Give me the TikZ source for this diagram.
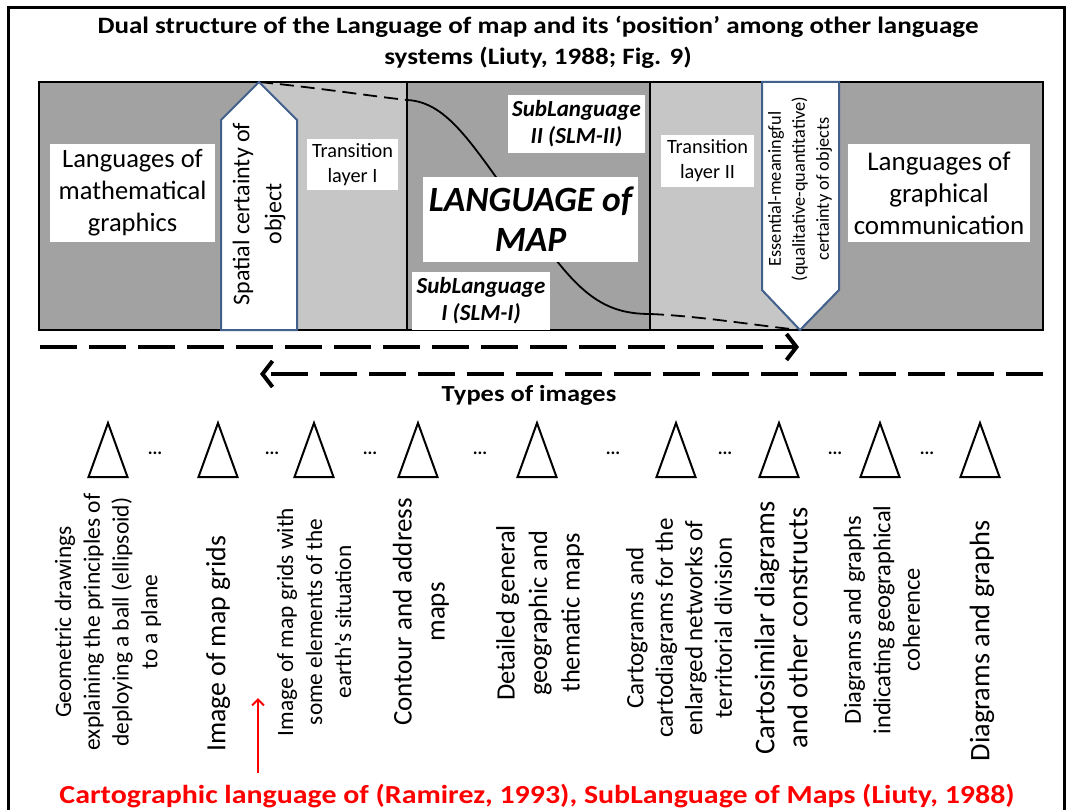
\documentclass[tikz,border=0pt]{standalone}
\usepackage{fontspec}
\setmainfont{Carlito}
\newfontfamily\widefont{Carlito}[FakeStretch=1.15]
\usetikzlibrary{arrows.meta}
\definecolor{bandDark}{RGB}{162,162,162}
\definecolor{bandLight}{RGB}{198,198,198}
\definecolor{shapeEdge}{RGB}{66,96,140}
\definecolor{citeRed}{RGB}{255,0,0}
\tikzset{
  whitebox/.style={fill=white, inner sep=0pt, align=center},
  pointer/.style={fill=white, draw=shapeEdge, line width=2pt, line join=miter},
  flowline/.style={line width=4pt, dash pattern=on 37pt off 12pt},
  flowtip/.style={-{Straight Barb[length=10pt,width=26pt,line width=4pt]}},
  kind/.style={draw, line width=2pt, fill=white, line join=miter},
  kindtext/.style={rotate=90, align=center},
  gap/.style={font=\fontsize{18}{18}\selectfont\bfseries},
}
\begin{document}
\begin{tikzpicture}[x=1pt,y=-1pt]
\useasboundingbox (0,0) rectangle (1073,810);
% outer frame
\draw[line width=3pt] (8,812) -- (8,8) -- (1064,8) -- (1064,812);

% title
\node[font=\widefont\fontsize{23.5}{31}\selectfont\bfseries, align=center] (title) at (538,42)
  {Dual structure of the Language of map and its ‘position’ among other language\\systems (Liuty, 1988; Fig. 9)};

% band of language systems
\fill[bandDark] (39,82) rectangle (1043,330);
\fill[bandLight] (259,82) rectangle (407,330);
\fill[bandLight] (650,82) rectangle (800,330);
\draw[line width=2pt] (407,82) -- (407,330);
\draw[line width=2pt] (650,82) -- (650,330);

% boundary between the sublanguages
\coordinate (apex) at (259,82);
\coordinate (c1) at (407,100);
\coordinate (c2) at (650,314);
\coordinate (foot) at (800,330);
\draw[line width=1.8pt, dash pattern=on 14pt off 7pt] (apex) .. controls (320,88) and (370,96) .. (c1);
\draw[line width=1.8pt] (c1) .. controls (450,102) and (475,150) .. (527,220)
   .. controls (575,290) and (600,314) .. (c2);
\draw[line width=1.8pt, dash pattern=on 14pt off 7pt] (c2) .. controls (700,316) and (760,326) .. (foot);

\draw[line width=2.5pt] (39,82) rectangle (1043,330);

% up and down pointers
\draw[pointer] (221,330) -- (221,120) -- (apex) -- (297,120) -- (297,330) -- cycle;
\draw[pointer] (762,82) -- (839,82) -- (839,290) -- (foot) -- (762,290) -- cycle;
\node[kindtext, font=\fontsize{24}{32}\selectfont] (spatial) at (259,214)
  {Spatial certainty of\\object};
\node[kindtext, font=\fontsize{18.3}{24}\selectfont] (essential) at (800,189)
  {Essential-meaningful\\(qualitative-quantitative)\\certainty of objects};

% labelled boxes
\node[whitebox, minimum width=165pt, minimum height=98pt, font=\fontsize{26.5}{32}\selectfont] (mathg) at (132.5,193)
  {Languages of\\mathematical\\graphics};
\node[whitebox, minimum width=91pt, minimum height=51pt, font=\fontsize{20.3}{25}\selectfont] (trans1) at (352.5,164.5)
  {Transition\\layer I};
\node[whitebox, minimum width=137pt, minimum height=58pt, font=\fontsize{23}{27}\selectfont\bfseries\itshape] (slm2) at (576.5,124)
  {SubLanguage\\II (SLM-II)};
\node[whitebox, minimum width=215pt, minimum height=85pt, font=\fontsize{35.5}{40}\selectfont\bfseries\itshape] (lom) at (530.5,219.5)
  {LANGUAGE of\\MAP};
\node[whitebox, minimum width=138pt, minimum height=58pt, font=\fontsize{23}{27}\selectfont\bfseries\itshape] (slm1) at (481,301)
  {SubLanguage\\I (SLM-I)};
\node[whitebox, minimum width=93pt, minimum height=52pt, font=\fontsize{20.3}{25}\selectfont] (trans2) at (707.5,161)
  {Transition\\layer II};
\node[whitebox, minimum width=182pt, minimum height=98pt, font=\fontsize{27}{32}\selectfont] (graphc) at (939,193)
  {Languages of\\graphical\\communication};

% direction arrows
\coordinate (r0) at (40,347);
\coordinate (r1) at (799,347);
\coordinate (l0) at (1043,374);
\coordinate (l1) at (260,374);
\draw[flowline, flowtip] (r0) -- (r1);
\draw[flowline, flowtip] (l0) -- (l1);
\node[font=\widefont\fontsize{23}{23}\selectfont\bfseries] (types) at (529,395) {Types of images};

% types of images
\foreach \x/\n in {108/t1, 218/t2, 314/t3, 418/t4, 537/t5, 676/t6, 779/t7, 880/t8, 980/t9}{
  \draw[kind] (\x-19.5,477) -- (\x,423) -- (\x+19.5,477) -- cycle;
  \coordinate (\n) at (\x,477);
}
\foreach \x in {155, 272, 370, 480, 613, 725, 835, 927}{
  \node[gap] at (\x,453) {...};
}

\node[kindtext, font=\fontsize{23.5}{28.7}\selectfont] (k1) at (108,622)
  {Geometric drawings\\explaining the principles of\\deploying a ball (ellipsoid)\\to a plane};
\node[kindtext, font=\fontsize{27.8}{33}\selectfont] (k2) at (218,644)
  {Image of map grids};
\node[kindtext, font=\fontsize{23.3}{29}\selectfont] (k3) at (314,622)
  {Image of map grids with\\some elements of the\\earth's situation};
\node[kindtext, font=\fontsize{27}{33}\selectfont] (k4) at (421,612)
  {Contour and address\\maps};
\node[kindtext, font=\fontsize{26.5}{32.5}\selectfont] (k5) at (540,613)
  {Detailed general\\geographic and\\thematic maps};
\node[kindtext, font=\fontsize{25}{29.5}\selectfont] (k6) at (679,628)
  {Cartograms and\\cartodiagrams for the\\enlarged networks of\\territorial division};
\node[kindtext, font=\fontsize{28.6}{33}\selectfont] (k7) at (781,628)
  {Cartosimilar diagrams\\and other constructs};
\node[kindtext, font=\fontsize{24.5}{29.5}\selectfont] (k8) at (882,620)
  {Diagrams and graphs\\indicating geographical\\coherence};
\node[kindtext, font=\fontsize{28.3}{33}\selectfont] (k9) at (982,641)
  {Diagrams and graphs};

% citation
\node[text=citeRed, font=\widefont\fontsize{26}{26}\selectfont\bfseries] (cite) at (537,796)
  {Cartographic language of (Ramirez, 1993), SubLanguage of Maps (Liuty, 1988)};
\coordinate (citeTop) at (258,698);
\coordinate (citeFoot) at (258,773);
\draw[citeRed, line width=2pt, -{Straight Barb[length=6pt,width=12pt]}] (citeFoot) -- (citeTop);
\end{tikzpicture}
\end{document}
